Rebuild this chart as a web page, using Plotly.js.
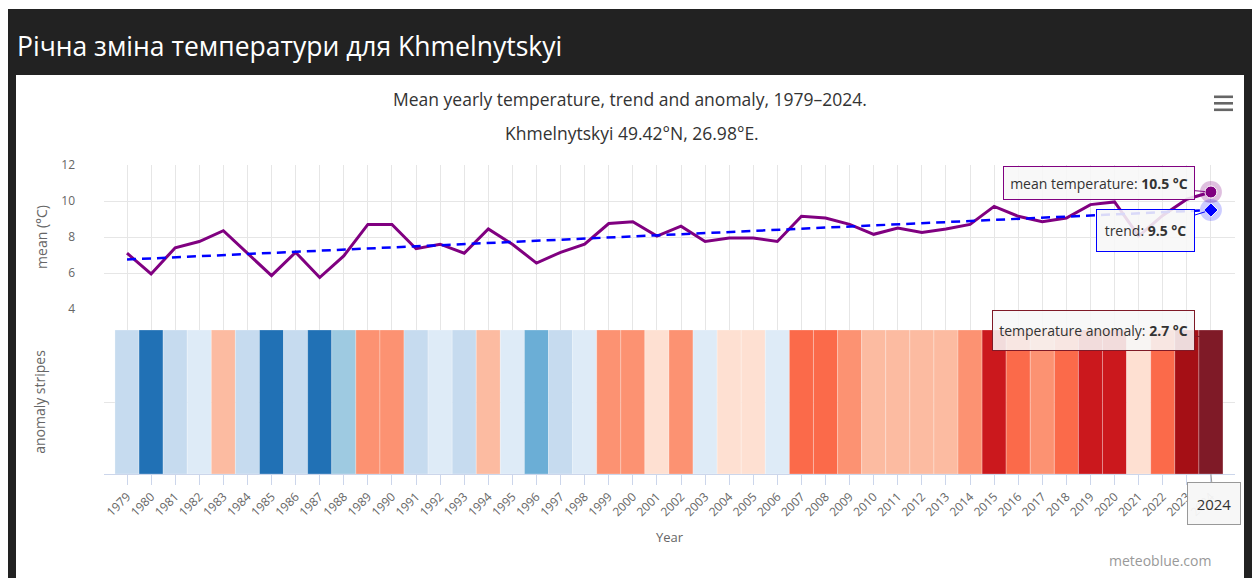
<!DOCTYPE html>
<html><head><meta charset="utf-8">
<script src="https://cdn.plot.ly/plotly-3.0.1.min.js"></script>
<style>
html,body{margin:0;padding:0;background:#fff;width:1252px;height:578px;overflow:hidden;}
#frame{position:absolute;left:8px;top:9px;right:0;bottom:0;background:#222;}
#head{position:absolute;left:17px;top:33px;font-family:"Open Sans",sans-serif;font-size:26.5px;line-height:26.5px;color:#fff;white-space:nowrap;}
#panel{position:absolute;left:16px;top:75px;width:1228px;height:503px;background:#fff;}
#chart{position:absolute;left:0;top:0;width:1228px;height:503px;}
</style></head>
<body>
<div id="frame"></div>
<div id="head">Річна зміна температури для Khmelnytskyi</div>
<div id="panel"><div id="chart"></div></div>
<script>
// ---- data ----
const years = [1979,1980,1981,1982,1983,1984,1985,1986,1987,1988,1989,1990,1991,1992,1993,1994,1995,1996,1997,1998,1999,2000,2001,2002,2003,2004,2005,2006,2007,2008,2009,2010,2011,2012,2013,2014,2015,2016,2017,2018,2019,2020,2021,2022,2023,2024];
const meanTemp = [7.1,5.95,7.4,7.75,8.35,7.1,5.85,7.15,5.75,6.95,8.7,8.7,7.35,7.6,7.1,8.45,7.6,6.55,7.15,7.6,8.75,8.85,8.05,8.6,7.75,7.95,7.95,7.75,9.15,9.05,8.7,8.15,8.5,8.25,8.45,8.7,9.7,9.15,8.85,9.05,9.8,9.95,8.05,9.2,10.1,10.5];
const anomaly = [-0.7,-1.85,-0.4,-0.05,0.55,-0.7,-1.95,-0.65,-2.05,-0.85,0.9,0.9,-0.45,-0.2,-0.7,0.65,-0.2,-1.25,-0.65,-0.2,0.95,1.05,0.25,0.8,-0.05,0.15,0.15,-0.05,1.35,1.25,0.9,0.35,0.7,0.45,0.65,0.9,1.9,1.35,1.05,1.25,2.0,2.15,0.25,1.4,2.3,2.7];
const trendYears = [1979, 2024];
const trendTemp = [6.75, 9.5];
const meanTicks = [4, 6, 8, 10, 12];
const stripeEdges = [-1.5, -1.0, -0.75, -0.3, 0.1, 0.3, 0.75, 1.1, 1.6, 2.2, 2.5];
const stripeColors = ['#2171b5','#6baed6','#9ecae1','#c6dbef','#deebf7','#fee0d2','#fcbba1','#fc9272','#fb6a4a','#cb181d','#a50f15','#7f1a27'];
const titleText = 'Mean yearly temperature, trend and anomaly, 1979–2024.';
const subtitleText = 'Khmelnytskyi 49.42°N, 26.98°E.';

// ---- geometry ----
const W = 1228, H = 503, L = 88, R = 9, T = 90, B = 104;
const PW = W - L - R, PH = H - T - B;
const OX = 16, OY = 75; // panel origin on page
const px = x => (x - OX - L) / PW;
const py = y => (OY + T + PH - y) / PH;
const topDom = [py(309), 1];
const botDom = [0, py(330)];

const cmin = -2.5, cmax = 3.0;
const bounds = [cmin].concat(stripeEdges, [cmax]);
const colorscale = [];
stripeColors.forEach((c, i) => {
  colorscale.push([(bounds[i] - cmin) / (cmax - cmin), c]);
  colorscale.push([(bounds[i + 1] - cmin) / (cmax - cmin), c]);
});

const n = years.length;
const lastYear = years[n - 1];
const font = '"Open Sans", sans-serif';

const traces = [
  {type:'scatter', mode:'lines', x: years, y: years.map(() => null), xaxis:'x', yaxis:'y', hoverinfo:'skip', showlegend:false},
  {type:'scatter', mode:'lines', x: years, y: meanTemp, xaxis:'x', yaxis:'y2', line:{color:'#800080', width:3}, name:'mean temperature'},
  {type:'scatter', mode:'lines', x: trendYears, y: trendTemp, xaxis:'x', yaxis:'y2', line:{color:'#0000ff', width:2.5, dash:'9px,6px'}, name:'trend'},
  {type:'bar', x: years, y: years.map(() => 1), xaxis:'x', yaxis:'y3', width:1, name:'temperature anomaly',
   marker:{color: anomaly, colorscale: colorscale, cmin: cmin, cmax: cmax, showscale:false, line:{width:1, color:'rgba(255,255,255,0.25)'}}},
  {type:'scatter', mode:'markers', x:[lastYear], y:[meanTemp[n-1]], xaxis:'x', yaxis:'y2', marker:{size:22, color:'rgba(128,0,128,0.25)'}, hoverinfo:'skip'},
  {type:'scatter', mode:'markers', x:[lastYear], y:[meanTemp[n-1]], xaxis:'x', yaxis:'y2', marker:{size:12, color:'#800080', line:{width:1, color:'#ffffff'}}, hoverinfo:'skip'},
  {type:'scatter', mode:'markers', x:[trendYears[1]], y:[trendTemp[1]], xaxis:'x', yaxis:'y2', marker:{size:22, color:'rgba(0,0,255,0.2)'}, hoverinfo:'skip'},
  {type:'scatter', mode:'markers', x:[trendYears[1]], y:[trendTemp[1]], xaxis:'x', yaxis:'y2', marker:{size:11, symbol:'diamond', color:'#0000ff', line:{width:1, color:'#ffffff'}}, hoverinfo:'skip'}
];

const tipBg = 'rgba(247,247,247,0.88)';
const tipFont = {size:14, color:'#333'};
const annotations = [
  {xref:'paper', yref:'paper', x: px(632), y: py(133), text: subtitleText, showarrow:false, xanchor:'center', yanchor:'middle', font:{size:17.5, color:'#333'}},
  {xref:'paper', yref:'paper', x: px(1213), y: py(561), text:'meteoblue.com', showarrow:false, xanchor:'right', yanchor:'middle', font:{size:14, color:'#999'}},
  {xref:'x', yref:'y2', x: lastYear, y: meanTemp[n-1], ax:-112, ay:-9, showarrow:true, arrowhead:0, arrowwidth:1, arrowcolor:'#800080', standoff:6,
   text:'mean temperature: <b>' + meanTemp[n-1].toFixed(1) + ' °C</b>', bgcolor: tipBg, bordercolor:'#800080', borderwidth:1, borderpad:0, width:190, height:32, font: tipFont},
  {xref:'x', yref:'y2', x: trendYears[1], y: trendTemp[1], ax:-65.5, ay:20.5, showarrow:true, arrowhead:0, arrowwidth:1, arrowcolor:'#0000ff', standoff:6,
   text:'trend: <b>' + trendTemp[1].toFixed(1) + ' °C</b>', bgcolor: tipBg, bordercolor:'#0000ff', borderwidth:1, borderpad:0, width:97, height:41, font: tipFont},
  {xref:'x', yref:'y3', x: lastYear, y: 0.95, ax:-117.5, ay:-7, showarrow:true, arrowhead:0, arrowwidth:1, arrowcolor:'#7f1a27', standoff:0,
   text:'temperature anomaly: <b>' + anomaly[n-1].toFixed(1) + ' °C</b>', bgcolor: tipBg, bordercolor:'#7f1a27', borderwidth:1, borderpad:0, width:201, height:39, font: tipFont},
  {xref:'x', yref:'paper', x: lastYear, y: 0, ax:3, ay:29.5, showarrow:true, arrowhead:0, arrowwidth:1, arrowcolor:'#999', standoff:0,
   text: String(lastYear), bgcolor:'rgba(247,247,247,0.95)', bordercolor:'#999', borderwidth:1, borderpad:0, width:52, height:41, font:{size:15, color:'#333'}}
];

const shapes = [
  {type:'line', xref:'x', yref:'paper', x0: lastYear, x1: lastYear, y0: topDom[0], y1: 1, line:{color:'#cccccc', width:1}, layer:'below'},
  {type:'line', xref:'paper', yref:'y2', x0: 0, x1: 1, y0: meanTicks[0], y1: meanTicks[0], line:{color:'#ccd6eb', width:1}, layer:'below'}
];
[95.5, 102, 108.5].forEach(y0 => {
  shapes.push({type:'rect', xref:'paper', yref:'paper', x0: px(1214), x1: px(1233), y0: py(y0), y1: py(y0 + 2.6), fillcolor:'#666', line:{width:0}});
});

const layout = {
  width: W, height: H, margin:{l:L, r:R, t:T, b:B, pad:0},
  paper_bgcolor:'#ffffff', plot_bgcolor:'#ffffff',
  font:{family: font, color:'#666', size:12},
  showlegend:false, hovermode:false, bargap:0,
  title:{text: titleText, font:{size:17.5, color:'#333'}, x:0.5, xref:'container', xanchor:'center', y: 1 - 25 / H, yref:'container', yanchor:'middle'},
  xaxis:{range:[1978.045, 2025], anchor:'y3', tickmode:'array', tickvals: years, ticktext: years.map(String), tickangle:-45,
    ticks:'outside', ticklen:10, tickcolor:'#ccd6eb', showline:true, linecolor:'#ccd6eb', showgrid:true, gridcolor:'#e6e6e6', zeroline:false,
    tickfont:{size:12, color:'#666'}, title:{text:'Year', font:{size:13, color:'#666'}, standoff:14}},
  yaxis:{domain:[0, 1], range:[0, 1], visible:false},
  yaxis2:{domain: topDom, anchor:'x', range:[meanTicks[0], meanTicks[meanTicks.length-1]], tickmode:'array', tickvals: meanTicks,
    gridcolor:'#e6e6e6', zeroline:false, showline:false, ticks:'', ticklabelstandoff:28, tickfont:{size:12, color:'#666'},
    title:{text:'mean (°C)', font:{size:14, color:'#666'}, standoff:10}},
  yaxis3:{domain: botDom, anchor:'x', range:[0, 1], tickmode:'array', tickvals:[0, 0.5, 1], showticklabels:false,
    gridcolor:'#e6e6e6', zeroline:false, showline:false, ticks:'',
    title:{text:'anomaly stripes', font:{size:14, color:'#666'}, standoff:54}},
  annotations: annotations,
  shapes: shapes
};

Plotly.newPlot('chart', traces, layout, {displayModeBar:false, staticPlot:true});
</script>
</body></html>
